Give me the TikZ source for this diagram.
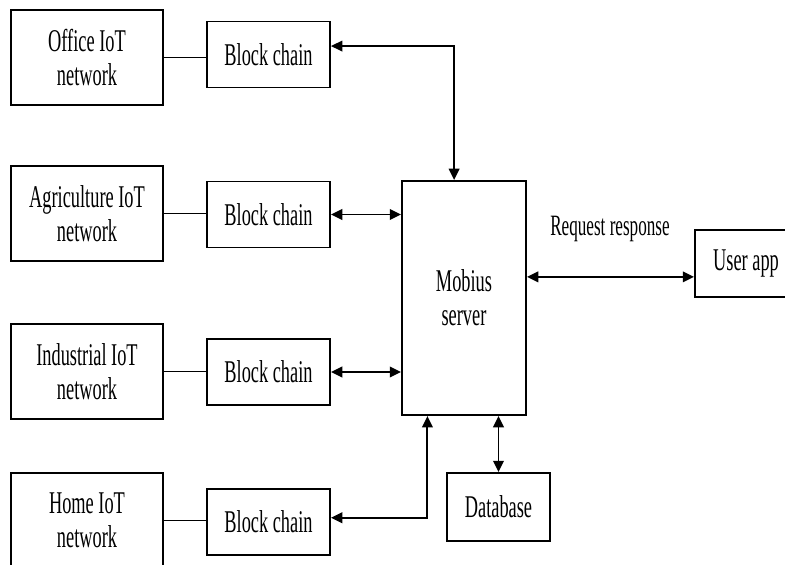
\documentclass[tikz,border=0pt]{standalone}
\usepackage{fontspec}
\setmainfont{Liberation Serif}[FakeStretch=0.58]
\usetikzlibrary{arrows.meta, calc}
\tikzset{
  every picture/.style={line width=1.4pt, x=0.025cm, y=-0.025cm},
  box/.style={draw, fill=white, align=center, inner sep=2pt, font=\fontsize{22.5}{24}\selectfont},
  netbox/.style={box, minimum width=3.775cm, minimum height=2.375cm},
  chainbox/.style={box, minimum width=3.075cm, minimum height=1.65cm},
  arrow/.style={{Triangle[length=8pt,width=7.5pt]}-{Triangle[length=8pt,width=7.5pt]}},
  tag/.style={font=\fontsize{21}{24}\selectfont},
}

\begin{document}
\begin{tikzpicture}
  \useasboundingbox (0,0) rectangle (785,565);
  % IoT networks and their block chains
  \node[netbox] (office) at (87,57.5) {Office IoT\\network};
  \node[netbox] (agri) at (87,213.5) {Agriculture IoT\\network};
  \node[netbox] (ind) at (87,371.5) {Industrial IoT\\network};
  \node[netbox] (home) at (87,520.5) {Home IoT\\network};
  \node[chainbox] (bc1) at (268.5,54.5) {Block chain};
  \node[chainbox] (bc2) at (268.5,214.5) {Block chain};
  \node[chainbox] (bc3) at (268.5,372) {Block chain};
  \node[chainbox] (bc4) at (268.5,522) {Block chain};
  \draw (office.east) -- (office.east -| bc1.west);
  \draw (agri.east) -- (agri.east -| bc2.west);
  \draw (ind.east) -- (ind.east -| bc3.west);
  \draw (home.east) -- (home.east -| bc4.west);
  % server side
  \node[box, minimum width=3.1cm, minimum height=5.85cm] (mobius) at (464,298) {Mobius\\server};
  \node[box, minimum width=2.575cm, minimum height=1.7cm] (db) at (498.5,507) {Database};
  \node[box, minimum width=2.55cm, minimum height=1.675cm] (user) at (746,263.5) {User app};
  \node[tag] (req) at (610,229) {Request response};
  \draw[arrow] ([yshift=6pt]bc1.east) -| ([xshift=-7pt]mobius.north);
  \draw[arrow] (bc2.east) -- (bc2.east -| mobius.west);
  \draw[arrow] (bc3.east) -- (bc3.east -| mobius.west);
  \draw[arrow] ([yshift=3pt]bc4.east) -| ([xshift=-26pt]mobius.south);
  \draw[arrow] (db.north) -- (db.north |- mobius.south);
  \draw[arrow] ([yshift=15pt]mobius.east) -- ([yshift=15pt]mobius.east -| user.west);
\end{tikzpicture}
\end{document}
